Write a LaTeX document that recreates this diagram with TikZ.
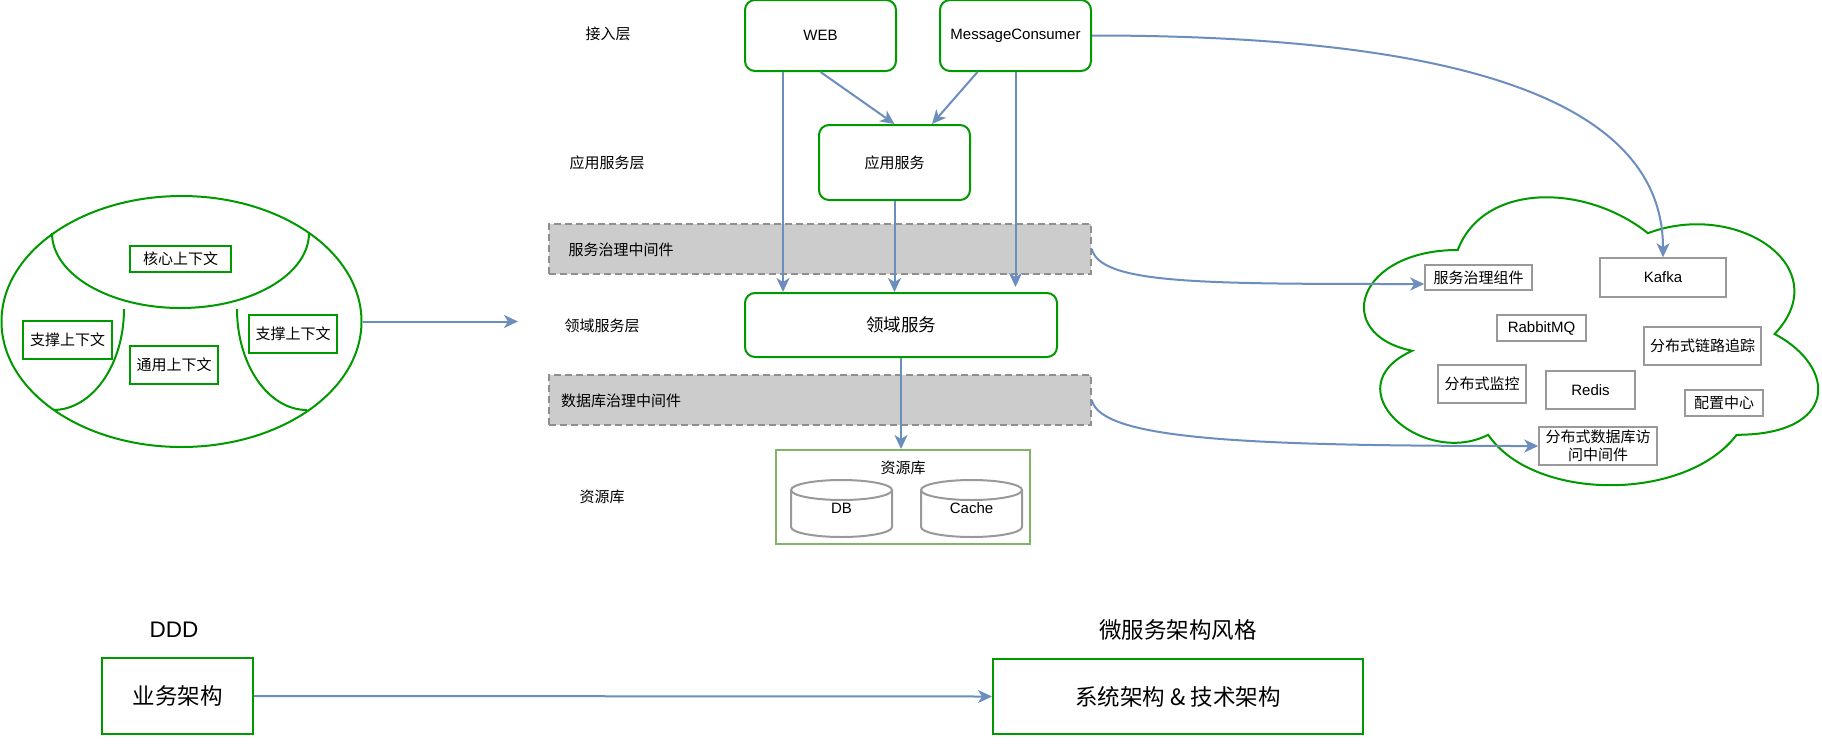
\documentclass[tikz,border=0pt]{standalone}
\usepackage{fontspec}
\setmainfont{Liberation Sans}
\newfontfamily\cjkf{Noto Sans CJK SC}
\usetikzlibrary{arrows.meta,shapes.geometric,calc}
\definecolor{grn}{HTML}{009900}
\definecolor{lgrn}{HTML}{82B366}
\definecolor{blu}{HTML}{6C8EBF}
\definecolor{gry}{HTML}{999999}
\definecolor{bandfill}{HTML}{CCCCCC}
\definecolor{bandline}{HTML}{8F8F8F}
\begin{document}
\begin{tikzpicture}[x=1pt,y=-1pt,
  zh/.style={font=\cjkf\fontsize{15}{18}\selectfont},
  en/.style={font=\fontsize{15}{18}\selectfont},
  zhbig/.style={font=\cjkf\fontsize{22.5}{27}\selectfont},
  enbig/.style={font=\fontsize{22.5}{27}\selectfont},
  rbox/.style={draw=grn, line width=2pt, rounded corners=10pt, inner sep=0pt, fill=white},
  ctx/.style={draw=grn, line width=2pt, inner sep=0pt, minimum width=89pt, minimum height=38pt, zh},
  gbox/.style={draw=gry, line width=1.5pt, inner sep=0pt, fill=white},
  band/.style={draw=bandline, fill=bandfill, line width=1.6pt, dash pattern=on 7pt off 4pt, inner sep=0pt, minimum width=542pt, minimum height=50pt},
  arr/.style={draw=blu, line width=2pt, -{Stealth[length=14pt,width=13pt,inset=4pt]}},
  cyl/.style={draw=gry, line width=2pt},
  gline/.style={draw=grn, line width=2pt}
]
\fill[white] (0,0) rectangle (1822,750);
\useasboundingbox (0,0) rectangle (1822,750);

% ---------- left: DDD contexts ----------
\node[draw=grn, line width=2pt, ellipse, minimum width=360pt, minimum height=251pt, inner sep=0pt] (ell) at (181.5,321.5) {};
\draw[gline] (52,233) .. controls (52,274.4) and (109.5,308) .. (180.5,308) .. controls (251.5,308) and (309,274.4) .. (309,233);
\draw[gline] (124,309) .. controls (124,364.8) and (92.2,410) .. (53,410);
\draw[gline] (237,309) .. controls (237,364.8) and (268.3,410) .. (307,410);
\node[ctx, minimum width=101pt, minimum height=26pt] (core) at (180.5,259) {核心上下文};
\node[ctx] (sup1) at (67.5,340) {支撑上下文};
\node[ctx, minimum width=88pt] (gen) at (174,365) {通用上下文};
\node[ctx, minimum width=88pt] (sup2) at (293,334) {支撑上下文};
\coordinate (ellend) at (518,321.5);
\draw[arr] (ell.east) -- (ellend);

% ---------- layer labels ----------
\node[zh] (l1) at (608,34) {接入层};
\node[zh] (l2) at (607,163) {应用服务层};
\node[zh] (l3) at (602,326) {领域服务层};
\node[zh] (l4) at (602,497) {资源库};

% ---------- bands ----------
\node[band] (band1) at (820,249) {};
\node[zh] (b1t) at (621,250) {服务治理中间件};
\node[band] (band2) at (820,400) {};
\node[zh] (b2t) at (621,401) {数据库治理中间件};

% ---------- service boxes ----------
\node[rbox, en, minimum width=151pt, minimum height=71pt] (web) at (820.5,35.5) {WEB};
\node[rbox, en, minimum width=151pt, minimum height=71pt] (mc) at (1015.5,35.5) {MessageConsumer};
\node[rbox, zh, minimum width=151pt, minimum height=75pt] (app) at (894.5,162.5) {应用服务};
\node[rbox, font=\cjkf\fontsize{17.5}{21}\selectfont, minimum width=312pt, minimum height=64pt] (dom) at (901,325) {领域服务};

% ---------- resource ----------
\node[draw=lgrn, line width=2pt, minimum width=254pt, minimum height=94pt, inner sep=0pt] (res) at (903,497) {};
\node[zh] (rest) at (903,468) {资源库};
\draw[cyl] (841.5,490) ellipse [x radius=50.5pt, y radius=10pt];
\draw[cyl] (791,490) -- (791,527) .. controls (791,532.5) and (813.6,537) .. (841.5,537) .. controls (869.4,537) and (892,532.5) .. (892,527) -- (892,490);
\draw[cyl] (971.5,490) ellipse [x radius=50.5pt, y radius=10pt];
\draw[cyl] (921,490) -- (921,527) .. controls (921,532.5) and (943.6,537) .. (971.5,537) .. controls (999.4,537) and (1022,532.5) .. (1022,527) -- (1022,490);
\node[en] (db) at (841.5,508) {DB};
\node[en] (cache) at (971.5,508) {Cache};

% ---------- cloud ----------
\draw[gline] (1457.75,250) .. controls (1356.35,250) and (1331,334) .. (1412.12,350.8)
  .. controls (1331,387.76) and (1422.26,468.4) .. (1488.17,434.8)
  .. controls (1533.8,502) and (1685.9,502) .. (1736.6,434.8)
  .. controls (1838,434.8) and (1838,367.6) .. (1774.6,334)
  .. controls (1838,266.8) and (1736.6,199.6) .. (1647.9,233.2)
  .. controls (1584.5,182.8) and (1483.1,182.8) .. cycle;
\node[gbox, zh, minimum width=107pt, minimum height=25pt] (gov) at (1478.5,277.5) {服务治理组件};
\node[gbox, en, minimum width=126pt, minimum height=39pt] (kafka) at (1663,277.5) {Kafka};
\node[gbox, en, minimum width=89pt, minimum height=26pt] (rabbit) at (1541.5,328) {RabbitMQ};
\node[gbox, zh, minimum width=117pt, minimum height=38pt] (trace) at (1702.5,346) {分布式链路追踪};
\node[gbox, zh, minimum width=88pt, minimum height=38pt] (mon) at (1482,384) {分布式监控};
\node[gbox, en, minimum width=89pt, minimum height=38pt] (redis) at (1590.5,390) {Redis};
\node[gbox, zh, minimum width=78pt, minimum height=26pt] (conf) at (1724,403) {配置中心};
\node[gbox, zh, minimum width=118pt, minimum height=38pt, align=center] (dbmw) at (1598,446) {分布式数据库访\\问中间件};

% ---------- arrows ----------
\draw[arr] ([xshift=-37.5pt]web.south) -- ([xshift=-37.5pt]web.south |- dom.north);
\draw[arr] (web.south) -- (app.north);
\draw[arr] ([xshift=-38pt]mc.south) -- ([xshift=37.5pt]app.north);
\draw[arr] (app.south) -- (app.south |- dom.north);
\draw[arr] (mc.south) -- ([yshift=5pt]mc.south |- dom.north);
\draw[arr] (dom.south) -- (dom.south |- res.north);
\draw[arr] (mc.east) .. controls +(330,0) and +(0,-170) .. (kafka.north);
\draw[arr] (band1.east) .. controls +(9,35) and +(-225,0) .. ([yshift=-6.5pt]gov.west);
\draw[arr] (band2.east) .. controls +(9,40) and +(-289,0) .. (dbmw.west);

% ---------- bottom ----------
\node[enbig] (ddd) at (174,630) {DDD};
\node[draw=grn, line width=2pt, zhbig, minimum width=151pt, minimum height=76pt, inner sep=0pt] (biz) at (177.5,696) {业务架构};
\node[zhbig] (msa) at (1178,630) {微服务架构风格};
\node[draw=grn, line width=2pt, zhbig, minimum width=370pt, minimum height=75pt, inner sep=0pt] (sys) at (1178,696.5) {系统架构 \& 技术架构};
\draw[arr] (biz.east) -- (sys.west);
\end{tikzpicture}
\end{document}
